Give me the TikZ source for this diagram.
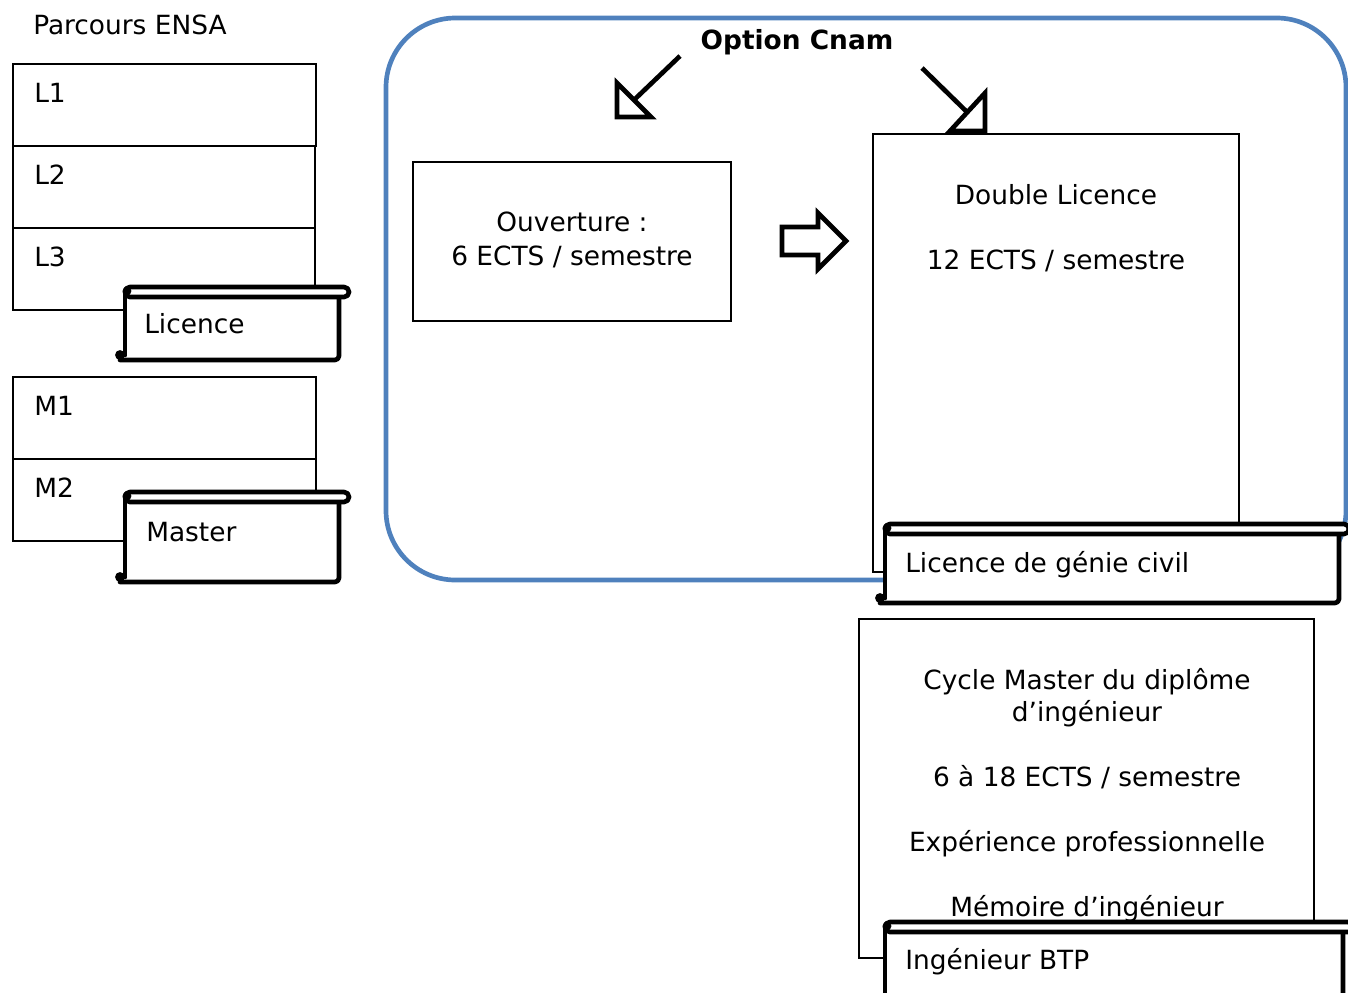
\documentclass[tikz,border=0pt]{standalone}
\usepackage{fontspec}
\setmainfont{DejaVu Sans}
\definecolor{accblue}{HTML}{4F81BD}
\tikzset{
  thinbox/.style={draw, line width=1.2pt, fill=white},
  lbl/.style={font=\fontsize{19.8}{23}\selectfont, inner sep=0pt},
  scrollline/.style={line width=3.5pt, line join=round, line cap=round},
  thick arrow/.style={line width=3.5pt, line join=miter},
  pics/hscroll/.style args={#1/#2}{code={
    \fill[white] (10,10) rectangle (#1-10,#2);
    \draw[scrollline] (10,5) -- (10,#2-5);
    \draw[scrollline, rounded corners=3pt] (5,#2) -- (#1-10,#2) -- (#1-10,10);
    \draw[scrollline, fill=white, rounded corners=3.7pt] (10,0) rectangle (#1,10);
    \draw[line width=2pt, fill=black] (5,#2-5) circle (3.5);
    \draw[line width=2pt, fill=black] (12,4) circle (3);
  }}
}
\begin{document}
\begin{tikzpicture}[x=0.75pt,y=-0.75pt]
\useasboundingbox (0,0) rectangle (1348,992);
% left column
\node[lbl, anchor=base west] (parcours) at (33,34) {Parcours ENSA};
\draw[thinbox] (13,64) rectangle (316,146);
\draw[thinbox] (13,146) rectangle (315,228);
\draw[thinbox] (13,228) rectangle (315,310);
\node[lbl, anchor=base west] (l1) at (34,102) {L1};
\node[lbl, anchor=base west] (l2) at (34,184) {L2};
\node[lbl, anchor=base west] (l3) at (34,266) {L3};
\pic at (115,287) {hscroll=234/73};
\node[lbl, anchor=base west] (licence) at (144,333) {Licence};
\draw[thinbox] (13,377) rectangle (316,459);
\draw[thinbox] (13,459) rectangle (316,541);
\node[lbl, anchor=base west] (m1) at (34,415) {M1};
\node[lbl, anchor=base west] (m2) at (34,497) {M2};
\pic at (115,492) {hscroll=234/90};
\node[lbl, anchor=base west] (master) at (146,541) {Master};
% option cnam frame
\draw[accblue, line width=3.5pt, rounded corners=52pt] (386,18) rectangle (1346,580);
\node[lbl, font=\fontsize{19.8}{23}\selectfont\bfseries, anchor=base] (cnam) at (797,49) {Option Cnam};
% open arrows
\coordinate (a1s) at (680,56);
\coordinate (a1m) at (634,100);
\coordinate (a1p) at (617,83);
\coordinate (a1t) at (617,117);
\coordinate (a1q) at (651,117);
\coordinate (a2s) at (922,68);
\coordinate (a2m) at (967,112);
\coordinate (a2p) at (985,93);
\coordinate (a2t) at (985,131);
\coordinate (a2q) at (950,131);
\draw[thinbox] (413,162) rectangle (731,321);
\node[lbl, anchor=base] (ouv1) at (572,231) {Ouverture :};
\node[lbl, anchor=base] (ouv2) at (572,265) {6 ECTS / semestre};
\draw[thick arrow, fill=white] (782,227) -- (818,227) -- (818,213) -- (846,241) -- (818,269) -- (818,255) -- (782,255) -- cycle;
\draw[thinbox] (873,134) rectangle (1239,572);
\draw[thick arrow] (a1s) -- (a1m);
\draw[thick arrow] (a1p) -- (a1t) -- (a1q) -- cycle;
\draw[thick arrow] (a2s) -- (a2m);
\draw[thick arrow] (a2p) -- (a2t) -- (a2q) -- cycle;
\node[lbl, anchor=base] (dl1) at (1056,204) {Double Licence};
\node[lbl, anchor=base] (dl2) at (1056,269) {12 ECTS / semestre};
\pic at (875,524) {hscroll=474/79};
\node[lbl, anchor=base west] (lgc) at (905,572) {Licence de génie civil};
% cycle master
\draw[thinbox] (859,619) rectangle (1314,958);
\node[lbl, anchor=base] (cm1) at (1087,689) {Cycle Master du diplôme};
\node[lbl, anchor=base] (cm2) at (1087,721) {d’ingénieur};
\node[lbl, anchor=base] (cm3) at (1087,786) {6 à 18 ECTS / semestre};
\node[lbl, anchor=base] (cm4) at (1087,851) {Expérience professionnelle};
\node[lbl, anchor=base] (cm5) at (1087,916) {Mémoire d’ingénieur};
\pic at (875,922) {hscroll=478/90};
\node[lbl, anchor=base west] (btp) at (905,969) {Ingénieur BTP};
\end{tikzpicture}
\end{document}
